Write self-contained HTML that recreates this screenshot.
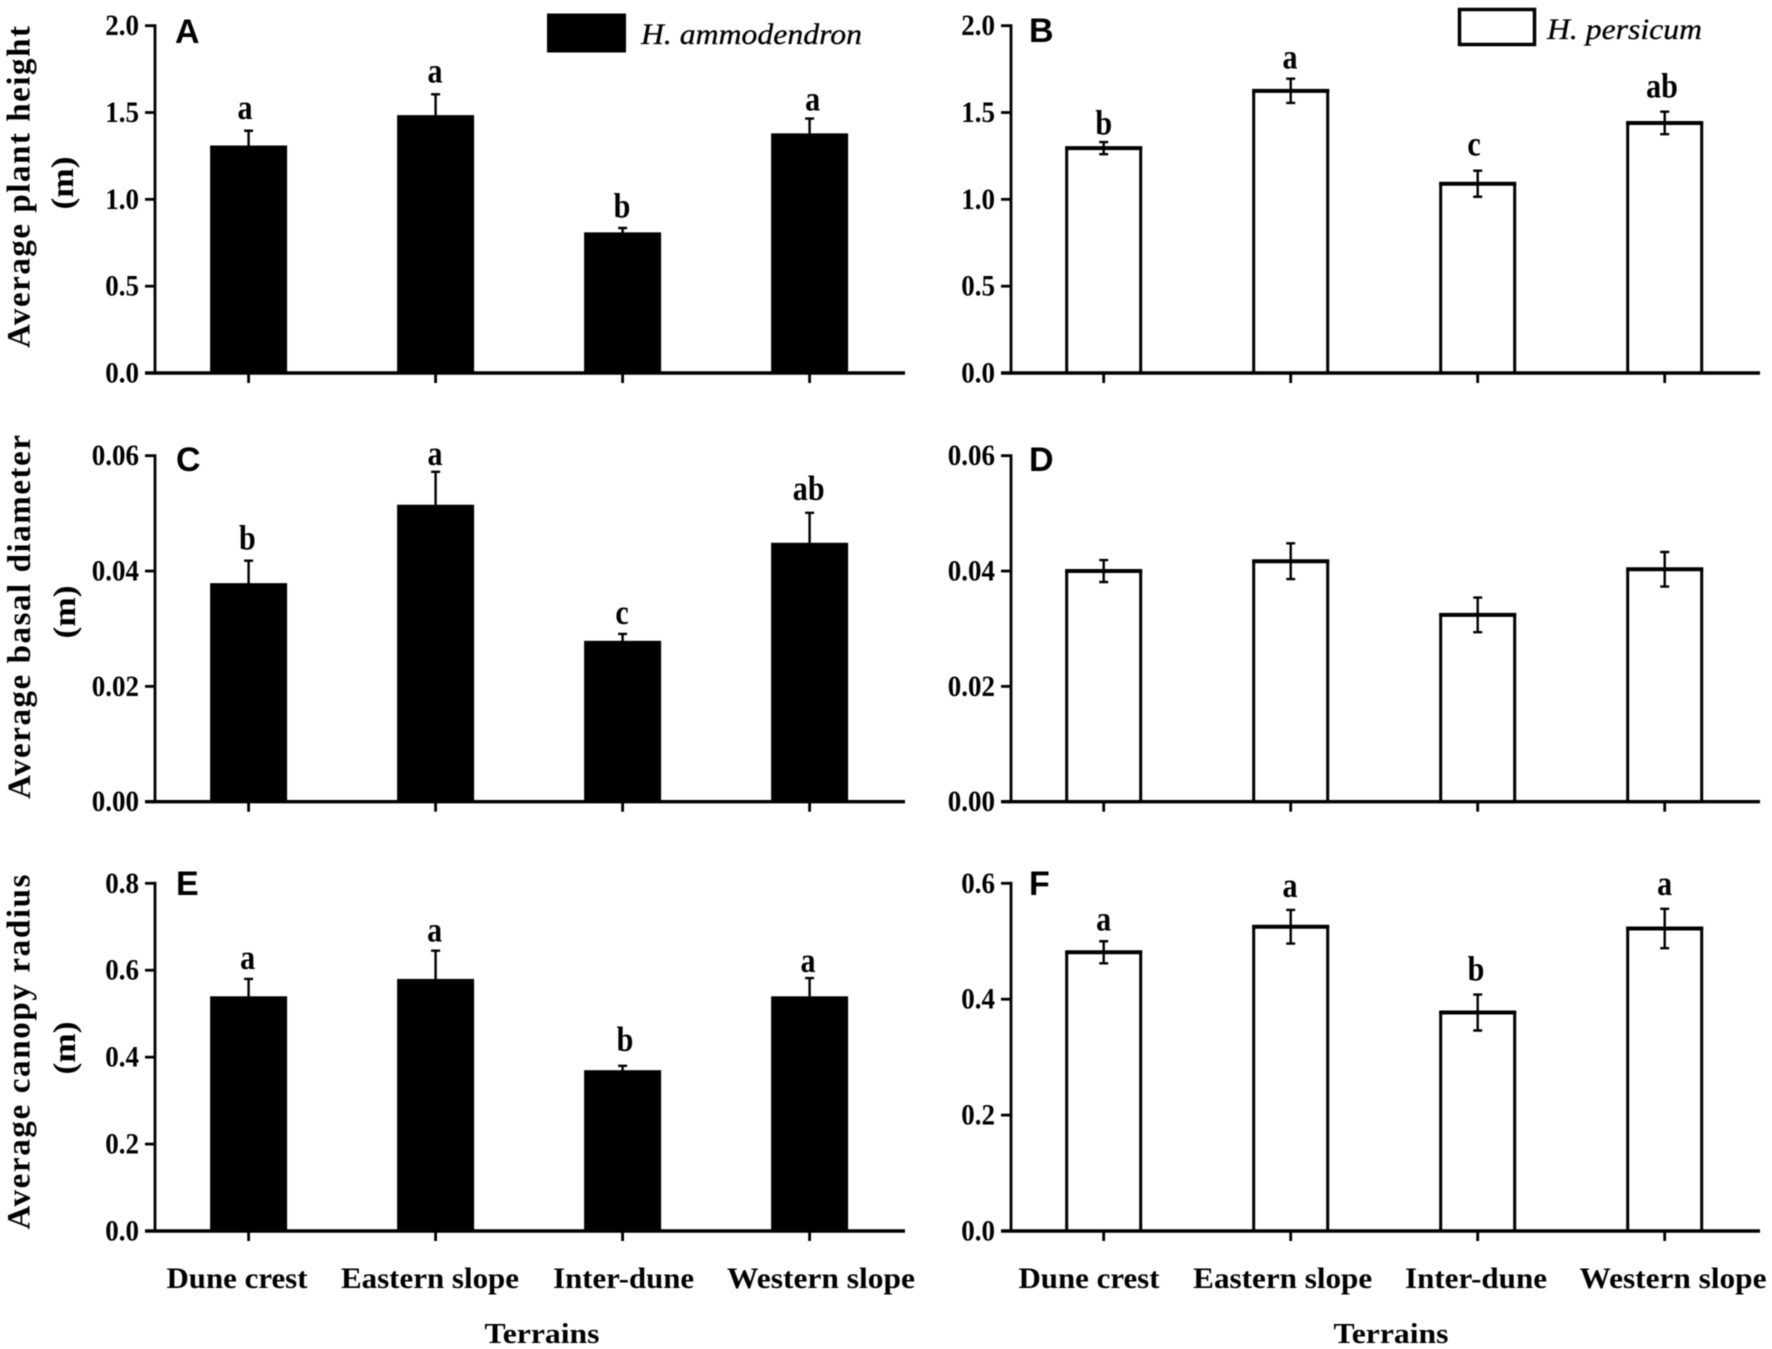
<!DOCTYPE html>
<html lang="en">
<head>
<meta charset="utf-8">
<title>Plant size by terrain</title>
<style>
  html, body { margin: 0; padding: 0; background: #fff; }
  body { width: 1772px; height: 1349px; overflow: hidden; }
  svg { display: block; filter: blur(0.45px); }
  text { font-family: "Liberation Serif", serif; font-weight: bold; fill: #000; }
  .panel-letter { font-family: "Liberation Sans", sans-serif; font-size: 34px; }
  .legend-text { font-style: italic; font-weight: normal; font-size: 30px; stroke: #000; stroke-width: 0.3px; }
  .axis-title { font-size: 33px; text-anchor: middle; }
  .unit-title { font-size: 32px; text-anchor: middle; }
  .x-title { font-size: 29px; text-anchor: middle; }
</style>
</head>
<body>
<svg id="chart" width="1772" height="1349" viewBox="0 0 1772 1349" xmlns="http://www.w3.org/2000/svg">
  <rect x="0" y="0" width="1772" height="1349" fill="#fff"/>

  <text class="panel-letter" x="175" y="43">A</text>
  <text class="panel-letter" x="1029" y="42">B</text>
  <text class="panel-letter" x="176" y="471">C</text>
  <text class="panel-letter" x="1029" y="471">D</text>
  <text class="panel-letter" x="176" y="895">E</text>
  <text class="panel-letter" x="1029" y="895">F</text>

  <rect x="547" y="13.5" width="79" height="39" fill="#000"/>
  <text class="legend-text" x="641" y="44" textLength="221" lengthAdjust="spacingAndGlyphs">H. ammodendron</text>
  <rect x="1459.5" y="9.5" width="75" height="35" fill="#fff" stroke="#000" stroke-width="3.5"/>
  <text class="legend-text" x="1547" y="39" textLength="155" lengthAdjust="spacingAndGlyphs">H. persicum</text>

  <text class="axis-title" transform="translate(29.5,187) rotate(-90)" textLength="322" lengthAdjust="spacing">Average plant height</text>
  <text class="unit-title" transform="translate(73,183) rotate(-90)" textLength="53" lengthAdjust="spacingAndGlyphs">(m)</text>
  <text class="axis-title" transform="translate(30,617) rotate(-90)" textLength="364" lengthAdjust="spacing">Average basal diameter</text>
  <text class="unit-title" transform="translate(75,612) rotate(-90)" textLength="53" lengthAdjust="spacingAndGlyphs">(m)</text>
  <text class="axis-title" transform="translate(29.5,1052) rotate(-90)" textLength="355" lengthAdjust="spacing">Average canopy radius</text>
  <text class="unit-title" transform="translate(75,1048) rotate(-90)" textLength="53" lengthAdjust="spacingAndGlyphs">(m)</text>

  <text class="x-title" x="542" y="1343" textLength="115" lengthAdjust="spacingAndGlyphs">Terrains</text>
  <text class="x-title" x="1391" y="1343" textLength="115" lengthAdjust="spacingAndGlyphs">Terrains</text>
</svg>

<script>
// Shared categories
const categories = ["Dune crest", "Eastern slope", "Inter-dune", "Western slope"];

// Panel A: H. ammodendron plant height
const valuesA = [1.31, 1.485, 0.81, 1.38];
const errorsA = [0.085, 0.12, 0.025, 0.085];
const lettersA = ["a", "a", "b", "a"];
const ticksA = [0, 0.5, 1, 1.5, 2];
const tickLabelsA = ["0.0", "0.5", "1.0", "1.5", "2.0"];

// Panel B: H. persicum plant height
const valuesB = [1.295, 1.625, 1.09, 1.44];
const errorsB = [0.035, 0.07, 0.075, 0.065];
const lettersB = ["b", "a", "c", "ab"];
const ticksB = [0, 0.5, 1, 1.5, 2];
const tickLabelsB = ["0.0", "0.5", "1.0", "1.5", "2.0"];

// Panel C: H. ammodendron basal diameter
const valuesC = [0.0379, 0.0515, 0.0279, 0.0449];
const errorsC = [0.0039, 0.0057, 0.0012, 0.0052];
const lettersC = ["b", "a", "c", "ab"];
const ticksC = [0, 0.02, 0.04, 0.06];
const tickLabelsC = ["0.00", "0.02", "0.04", "0.06"];

// Panel D: H. persicum basal diameter
const valuesD = [0.04, 0.0417, 0.0324, 0.0403];
const errorsD = [0.0019, 0.0031, 0.003, 0.003];
const lettersD = ["", "", "", ""];
const ticksD = [0, 0.02, 0.04, 0.06];
const tickLabelsD = ["0.00", "0.02", "0.04", "0.06"];

// Panel E: H. ammodendron canopy radius
const valuesE = [0.54, 0.58, 0.37, 0.54];
const errorsE = [0.04, 0.065, 0.01, 0.042];
const lettersE = ["a", "a", "b", "a"];
const ticksE = [0, 0.2, 0.4, 0.6, 0.8];
const tickLabelsE = ["0.0", "0.2", "0.4", "0.6", "0.8"];

// Panel F: H. persicum canopy radius
const valuesF = [0.481, 0.525, 0.377, 0.522];
const errorsF = [0.019, 0.029, 0.031, 0.034];
const lettersF = ["a", "a", "b", "a"];
const ticksF = [0, 0.2, 0.4, 0.6];
const tickLabelsF = ["0.0", "0.2", "0.4", "0.6"];

const NS = "http://www.w3.org/2000/svg";
const svg = document.getElementById("chart");

function make(tag, attrs, parent) {
  const el = document.createElementNS(NS, tag);
  for (const k in attrs) el.setAttribute(k, attrs[k]);
  parent.appendChild(el);
  return el;
}

function drawPanel(cfg) {
  const group = make("g", {}, svg);
  
  

  const yMax = cfg.ticks[cfg.ticks.length - 1];
  const yScale = v => cfg.base - (v / yMax) * (cfg.base - cfg.top);
  const xScale = i => cfg.firstCenter + i * 187;
  const barWidth = 77;

  // bars
  cfg.values.forEach((v, i) => {
    const inset = cfg.filled ? 0 : 1.5;
    const bar = make("rect", {
      x: xScale(i) - barWidth / 2 + inset,
      y: yScale(v),
      width: barWidth - inset * 2,
      height: cfg.base - yScale(v),
      fill: cfg.filled ? "#000" : "#fff",
      stroke: cfg.filled ? "none" : "#000",
      "stroke-width": 3
    }, group);
    
    

    if (!cfg.filled) {
      const cap = make("line", {
        x1: xScale(i) - barWidth / 2, x2: xScale(i) + barWidth / 2,
        y1: yScale(v), y2: yScale(v), stroke: "#000", "stroke-width": 4
      }, group);
      
      
    }
  });

  // error bars
  cfg.errors.forEach((e, i) => {
    const cx = xScale(i);
    const hi = yScale(cfg.values[i] + e);
    const lo = yScale(cfg.values[i] - e);
    const path = make("path", {
      d: "M" + cx + " " + hi + "V" + lo +
         "M" + (cx - 4.5) + " " + hi + "H" + (cx + 4.5) +
         "M" + (cx - 4.5) + " " + lo + "H" + (cx + 4.5),
      fill: "none", stroke: "#000", "stroke-width": 2.4
    }, group);
    
    
  });

  // significance letters
  cfg.letters.forEach((s, i) => {
    if (!s) return;
    const lx = xScale(i) + cfg.letterDx[i];
    const ly = yScale(cfg.values[i] + cfg.errors[i]) - cfg.letterGap[i];
    const t = make("text", {
      transform: "translate(" + lx + "," + ly + ") scale(0.86,1)",
      "text-anchor": "middle",
      "font-size": 35
    }, group);
    t.textContent = s;
    
    
  });

  // y axis
  const yAxis = make("line", {
    x1: cfg.axisX, x2: cfg.axisX, y1: cfg.top - 1.5, y2: cfg.base,
    stroke: "#000", "stroke-width": 2.8
  }, group);
  
  

  cfg.ticks.forEach((tv, i) => {
    const y = yScale(tv);
    const tick = make("line", {
      x1: cfg.axisX - 10, x2: cfg.axisX, y1: y, y2: y,
      stroke: "#000", "stroke-width": 2.8
    }, group);
    
    

    const label = make("text", {
      transform: "translate(" + (cfg.axisX - 16) + "," + (y + 9.5) + ") scale(0.9,1)",
      "text-anchor": "end", "font-size": 30
    }, group);
    label.textContent = cfg.tickLabels[i];
    
    
  });

  // x axis
  const xAxis = make("line", {
    x1: cfg.axisX - 10, x2: cfg.axisEnd, y1: cfg.base, y2: cfg.base,
    stroke: "#000", "stroke-width": 3.4
  }, group);
  
  

  categories.forEach((c, i) => {
    const tick = make("line", {
      x1: xScale(i), x2: xScale(i), y1: cfg.base, y2: cfg.base + 10,
      stroke: "#000", "stroke-width": 2.8
    }, group);
    
    

    if (cfg.categoryDx) {
      const label = make("text", {
        x: xScale(i) + cfg.categoryDx[i], y: cfg.base + 57,
        "text-anchor": "middle", "font-size": 30,
        textLength: cfg.categoryWidths[i], lengthAdjust: "spacingAndGlyphs"
      }, group);
      label.textContent = c;
      
      
    }
  });
}

drawPanel({
  id: "a", filled: true, values: valuesA, errors: errorsA, letters: lettersA,
  ticks: ticksA, tickLabels: tickLabelsA,
  top: 25.7, base: 373, axisX: 155, axisEnd: 905, firstCenter: 248.6,
  letterDx: [-3.6, -0.6, -0.6, 3], letterGap: [12, 12, 10.7, 8]
});
drawPanel({
  id: "b", filled: false, values: valuesB, errors: errorsB, letters: lettersB,
  ticks: ticksB, tickLabels: tickLabelsB,
  top: 25.7, base: 373, axisX: 1011, axisEnd: 1760, firstCenter: 1103.7,
  letterDx: [0, -0.7, -3.7, -2.7], letterGap: [7.7, 10, 15, 14]
});
drawPanel({
  id: "c", filled: true, values: valuesC, errors: errorsC, letters: lettersC,
  ticks: ticksC, tickLabels: tickLabelsC,
  top: 455.7, base: 801.7, axisX: 155, axisEnd: 905, firstCenter: 248.6,
  letterDx: [-1.2, -0.6, -0.6, -0.9], letterGap: [11, 7, 10, 12.7]
});
drawPanel({
  id: "d", filled: false, values: valuesD, errors: errorsD, letters: lettersD,
  ticks: ticksD, tickLabels: tickLabelsD,
  top: 455.7, base: 801.7, axisX: 1011, axisEnd: 1760, firstCenter: 1103.7,
  letterDx: [0, 0, 0, 0], letterGap: [0, 0, 0, 0]
});
drawPanel({
  id: "e", filled: true, values: valuesE, errors: errorsE, letters: lettersE,
  ticks: ticksE, tickLabels: tickLabelsE,
  top: 883.3, base: 1231, axisX: 155, axisEnd: 905, firstCenter: 248.6,
  letterDx: [-1, -1, 2.4, -1.6], letterGap: [10, 9, 15, 6],
  categoryDx: [-11.6, -5.6, 1, 11.4], categoryWidths: [141, 178, 141, 188]
});
drawPanel({
  id: "f", filled: false, values: valuesF, errors: errorsF, letters: lettersF,
  ticks: ticksF, tickLabels: tickLabelsF,
  top: 883.3, base: 1231, axisX: 1011, axisEnd: 1760, firstCenter: 1103.7,
  letterDx: [0, -0.7, -1.7, 0], letterGap: [11, 13, 14, 14],
  categoryDx: [-14.7, -8, -1.7, 8.3], categoryWidths: [141, 179, 142, 187]
});
</script>
</body>
</html>
